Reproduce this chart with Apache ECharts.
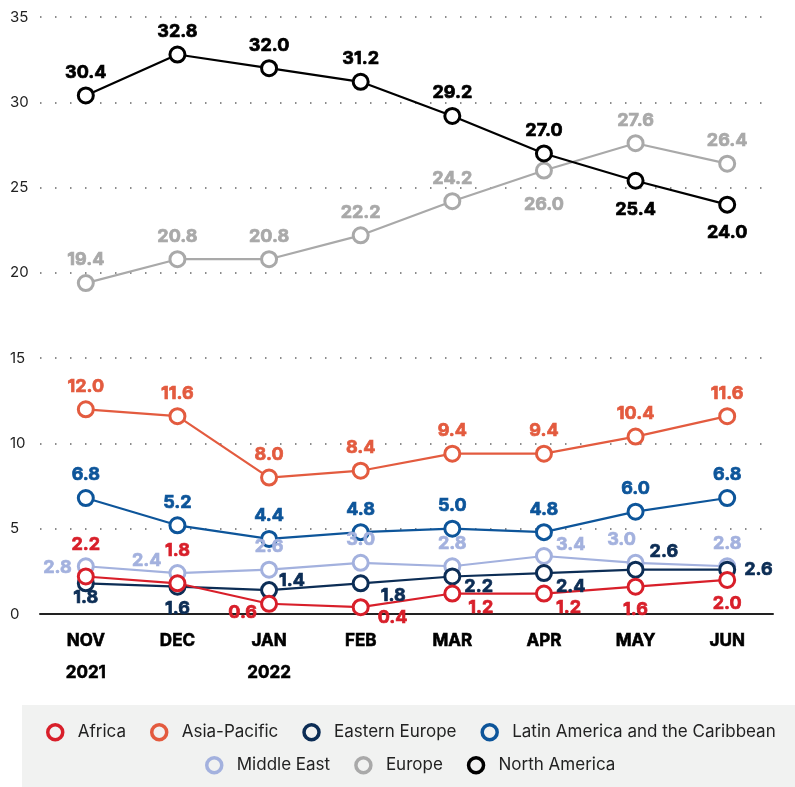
<!DOCTYPE html>
<html><head><meta charset="utf-8">
<script src="https://cdn.jsdelivr.net/npm/echarts@6/dist/echarts.min.js"></script>
<style>html,body{margin:0;padding:0;background:#fff}#c{width:795px;height:787px}</style>
</head><body><div id="c"></div>
<script>
const categories = ['NOV\n2021','DEC','JAN\n2022','FEB','MAR','APR','MAY','JUN'];
const africa        = [2.2, 1.8, 0.6, 0.4, 1.2, 1.2, 1.6, 2.0];
const asiaPacific   = [12.0, 11.6, 8.0, 8.4, 9.4, 9.4, 10.4, 11.6];
const easternEurope = [1.8, 1.6, 1.4, 1.8, 2.2, 2.4, 2.6, 2.6];
const latinAmerica  = [6.8, 5.2, 4.4, 4.8, 5.0, 4.8, 6.0, 6.8];
const middleEast    = [2.8, 2.4, 2.6, 3.0, 2.8, 3.4, 3.0, 2.8];
const europe        = [19.4, 20.8, 20.8, 22.2, 24.2, 26.0, 27.6, 26.4];
const northAmerica  = [30.4, 32.8, 32.0, 31.2, 29.2, 27.0, 25.4, 24.0];
const yTicks = [0, 5, 10, 15, 20, 25, 30, 35];

// label placement per point: [position, dx, dy]
const T = ['top',0,0];
const place = {
  'Africa': [['top',0,-9],['top',0,-10],['left',2,9],['right',3,10],['right',2,14],['right',-2,14],['bottom',0,0],['bottom',0,1]],
  'Asia-Pacific': [T,T,T,T,T,T,T,T],
  'Eastern Europe': [['bottom',0,-9],['bottom',0,-1],['right',-4,-10],['right',6,12],['right',-2,10],['right',-2,14],['right',0,-18],['right',3,0]],
  'Latin America and the Caribbean': [T,T,T,T,T,T,T,T],
  'Middle East': [['left',0,1],['left',-2,-12],T,T,T,['right',-2,-11],['top',-14,0],T],
  'Europe': [T,T,T,T,T,['bottom',0,11],T,T],
  'North America': [T,T,T,T,T,T,['bottom',0,6],['bottom',0,5]]
};
const colors = {
  'Africa':'#d81f2a',
  'Asia-Pacific':'#e35b3f',
  'Eastern Europe':'#0c2d55',
  'Latin America and the Caribbean':'#0d559a',
  'Middle East':'#a3b1de',
  'Europe':'#a9a9a9',
  'North America':'#000000'
};
const seriesData = {
  'Africa': africa, 'Asia-Pacific': asiaPacific, 'Eastern Europe': easternEurope,
  'Latin America and the Caribbean': latinAmerica, 'Middle East': middleEast,
  'Europe': europe, 'North America': northAmerica
};
const drawOrder = ['Europe','North America','Middle East','Latin America and the Caribbean','Eastern Europe','Asia-Pacific','Africa'];

const series = drawOrder.map(name => {
  const c = colors[name];
  return {
    name, type:'line', data: seriesData[name].map((v,i) => {
      const p = place[name][i];
      return {value: v, label: {position: p[0], offset: [p[1], p[2]]}};
    }),
    symbol:'circle', symbolSize:15,
    itemStyle:{color:'#fff', borderColor:c, borderWidth:3},
    lineStyle:{color:c, width:2.2},
    label:{show:true, color:c, fontFamily:'Inter', fontWeight:'bold', fontSize:18,
      textBorderColor:c, textBorderWidth:0.7,
      formatter: p => p.value.toFixed(1)},
    emphasis:{disabled:true},
    animation:false
  };
});

function legendItems(names){
  return names.map(n => ({name:n, icon:'circle',
    itemStyle:{color:'rgba(0,0,0,0)', borderColor:colors[n], borderWidth:3.5}}));
}
const legendCommon = {
  itemWidth:15, itemHeight:15, itemGap:24, padding:0,
  textStyle:{fontFamily:'Inter', fontSize:17, color:'#222', padding:[0,0,0,10]},
  selectedMode:false
};

const chart = echarts.init(document.getElementById('c'));
chart.setOption({
  animation:false,
  color: drawOrder.map(n => colors[n]),
  graphic:[{type:'rect', shape:{x:22, y:705, width:773, height:82}, style:{fill:'#f1f2f1'}, z:-10, silent:true}],
  grid:{left:40, right:22, top:17, bottom:173},
  legend:[
    Object.assign({left:46, top:723, data: legendItems(['Africa','Asia-Pacific','Eastern Europe','Latin America and the Caribbean'])}, legendCommon),
    Object.assign({left:205, top:756, data: legendItems(['Middle East','Europe','North America'])}, legendCommon)
  ],
  xAxis:{type:'category', data:categories, boundaryGap:true,
    axisLine:{lineStyle:{color:'#222', width:2}}, axisTick:{show:false},
    axisLabel:{fontFamily:'Inter', fontWeight:'bold', fontSize:17, color:'#000', lineHeight:32, margin:11,
      textBorderColor:'#000', textBorderWidth:0.6}},
  yAxis:{type:'value', min:yTicks[0], max:yTicks[yTicks.length-1], interval:5,
    axisLine:{show:false}, axisTick:{show:false},
    axisLabel:{fontFamily:'Inter', fontSize:15, color:'#222', align:'left', margin:30},
    splitLine:{lineStyle:{color:'#666', width:1.5, type:[1.5,13.5]}}},
  series
});
</script></body></html>
